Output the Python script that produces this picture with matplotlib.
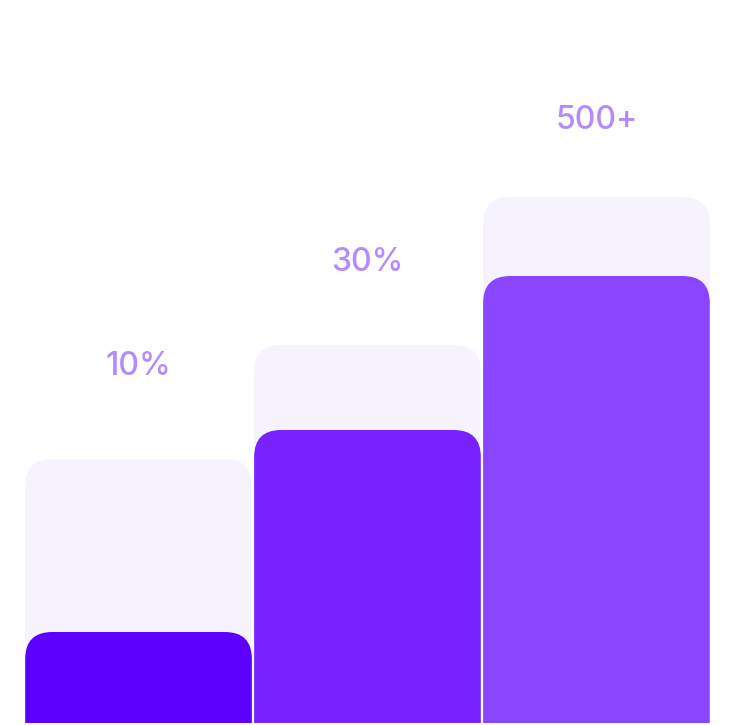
import matplotlib
matplotlib.use("Agg")
import matplotlib.pyplot as plt
from matplotlib.patches import FancyBboxPatch

# dati
labels = ['10%', '30%', '500+']
back_values = [264, 378, 526]
front_values = [91, 293, 447]
front_colors = ['#5E00FF', '#7722FF', '#8A45FF']
BACK_COLOR = '#F6F3FE'
LABEL_COLOR = '#B48BFF'

# distanza etichetta sopra la barra di sfondo
LABEL_GAP = [96, 86, 80]

fig = plt.figure(figsize=(7.4, 7.25), dpi=100)
ax = fig.add_axes([0, 2 / 725, 1, 723 / 725])
ax.set_xlim(-0.605, 2.627)
ax.set_ylim(0, 723)
ax.axis('off')

width = 0.99
radius = 0.118
# pixel per unita' x / pixel per unita' y
aspect = (740 / 3.232) / (723 / 723)


def rounded_bar(x, h, color):
    patch = FancyBboxPatch((x - width / 2, -40), width, h + 40,
                           boxstyle=f"round,pad=0,rounding_size={radius}",
                           mutation_aspect=aspect, fc=color, ec='none')
    ax.add_patch(patch)


for i, (b, f) in enumerate(zip(back_values, front_values)):
    rounded_bar(i, b, BACK_COLOR)
    rounded_bar(i, f, front_colors[i])
    ax.text(i, b + LABEL_GAP[i], labels[i], ha='center', va='center_baseline',
            fontsize=23, fontweight='medium', color=LABEL_COLOR, family='Inter')

fig.savefig('out.png', dpi=100)
